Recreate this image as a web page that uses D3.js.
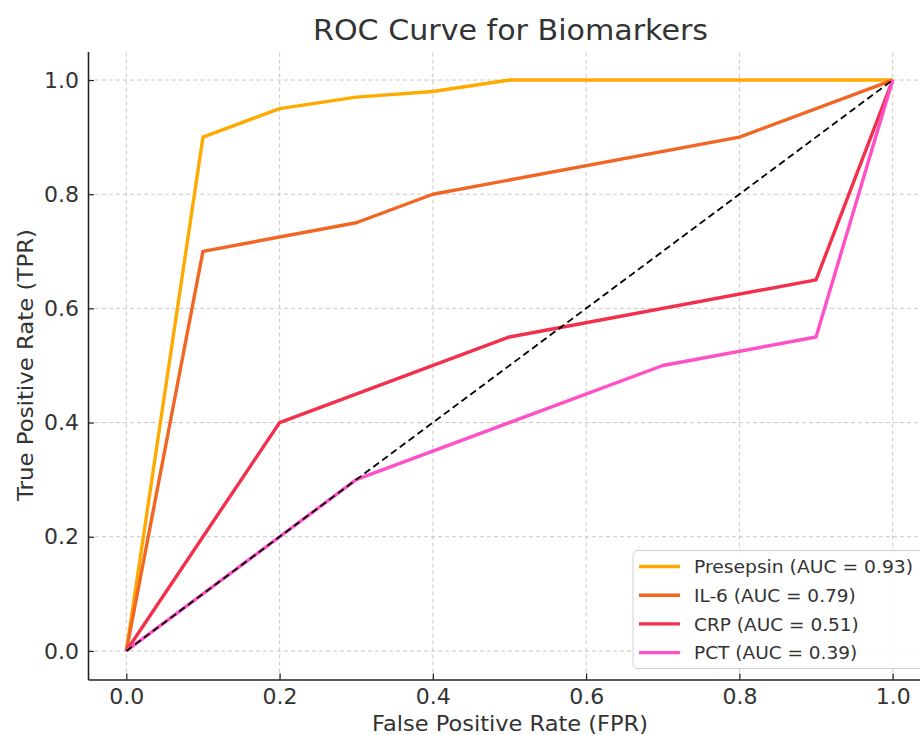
<!DOCTYPE html>
<html>
<head>
<meta charset="utf-8">
<title>ROC Curve for Biomarkers</title>
<script src="https://d3js.org/d3.v7.min.js"></script>
<style>
  body { margin: 0; background: #fff; }
  text { font-family: "DejaVu Sans", sans-serif; fill: #333; }
</style>
</head>
<body>
<div id="chart"></div>
<script>
var width = 920, height = 735;

// data
var seriesNames = ["Presepsin", "IL-6", "CRP", "PCT"];
var aucValues = [0.93, 0.79, 0.51, 0.39];
var seriesColors = ["#ffaa00", "#f26522", "#f2304c", "#ff50c8"];

var presepsinFpr = [0, 0.1, 0.2, 0.3, 0.4, 0.5, 0.6, 0.7, 0.8, 0.9, 1.0];
var presepsinTpr = [0, 0.9, 0.95, 0.97, 0.98, 1.0, 1.0, 1.0, 1.0, 1.0, 1.0];
var il6Fpr = [0, 0.1, 0.3, 0.4, 0.8, 1.0];
var il6Tpr = [0, 0.7, 0.75, 0.8, 0.9, 1.0];
var crpFpr = [0, 0.2, 0.5, 0.9, 1.0];
var crpTpr = [0, 0.4, 0.55, 0.65, 1.0];
var pctFpr = [0, 0.3, 0.7, 0.9, 1.0];
var pctTpr = [0, 0.3, 0.5, 0.55, 1.0];

var tickValues = [0, 0.2, 0.4, 0.6, 0.8, 1.0];

var curves = [
  { fpr: presepsinFpr, tpr: presepsinTpr },
  { fpr: il6Fpr, tpr: il6Tpr },
  { fpr: crpFpr, tpr: crpTpr },
  { fpr: pctFpr, tpr: pctTpr }
].map(function(c, i) {
  return {
    name: seriesNames[i],
    auc: aucValues[i],
    color: seriesColors[i],
    points: c.fpr.map(function(f, j) { return [f, c.tpr[j]]; })
  };
});

var margin = { left: 88, top: 51.5, right: -11, bottom: 55.5 };
var x = d3.scaleLinear().domain([-0.05, 1.05]).range([margin.left, width - margin.right]);
var y = d3.scaleLinear().domain([-0.05, 1.05]).range([height - margin.bottom, margin.top]);

var svg = d3.select("#chart").append("svg")
  .attr("width", width)
  .attr("height", height);

// grid
var grid = svg.append("g").attr("class", "grid");
grid.selectAll("line.v").data(tickValues).enter().append("line")
  .attr("x1", function(d) { return x(d); })
  .attr("x2", function(d) { return x(d); })
  .attr("y1", y(-0.05)).attr("y2", y(1.05))
  .attr("stroke", "#c8c8c8").attr("stroke-width", 1).attr("stroke-dasharray", "4,3");
grid.selectAll("line.h").data(tickValues).enter().append("line")
  .attr("y1", function(d) { return y(d); })
  .attr("y2", function(d) { return y(d); })
  .attr("x1", x(-0.05)).attr("x2", x(1.05))
  .attr("stroke", "#c8c8c8").attr("stroke-width", 1).attr("stroke-dasharray", "4,3");

// axes
var xAxis = d3.axisBottom(x).tickValues(tickValues).tickFormat(d3.format(".1f"))
  .tickSizeInner(-6).tickSizeOuter(0).tickPadding(7);
var yAxis = d3.axisLeft(y).tickValues(tickValues).tickFormat(d3.format(".1f"))
  .tickSizeInner(-6).tickSizeOuter(0).tickPadding(9);

var gx = svg.append("g").attr("transform", "translate(0," + y(-0.05) + ")").call(xAxis);
var gy = svg.append("g").attr("transform", "translate(" + x(-0.05) + ",0)").call(yAxis);
[gx, gy].forEach(function(g) {
  g.select(".domain").attr("stroke", "#222").attr("stroke-width", 1.6);
  g.selectAll(".tick line").attr("stroke", "#222").attr("stroke-width", 1.2);
  g.selectAll(".tick text").attr("font-size", 22).attr("fill", "#222")
    .style("font-family", "'DejaVu Sans', sans-serif");
});
gx.selectAll(".tick text").attr("y", 7).attr("dy", "0.78em");

var line = d3.line().x(function(d) { return x(d[0]); }).y(function(d) { return y(d[1]); });

// curves
svg.append("g").selectAll("path").data(curves).enter().append("path")
  .attr("d", function(d) { return line(d.points); })
  .attr("fill", "none")
  .attr("stroke", function(d) { return d.color; })
  .attr("stroke-width", 3.4)
  .attr("stroke-linejoin", "round");

// diagonal reference
svg.append("path")
  .attr("d", line([[0, 0], [1, 1]]))
  .attr("fill", "none")
  .attr("stroke", "#000")
  .attr("stroke-width", 1.8)
  .attr("stroke-dasharray", "7,4");

// title and labels
svg.append("text")
  .attr("x", 510.5).attr("y", 40)
  .attr("text-anchor", "middle")
  .attr("font-size", 29)
  .attr("textLength", 395).attr("lengthAdjust", "spacingAndGlyphs")
  .text("ROC Curve for Biomarkers");

svg.append("text")
  .attr("x", 510).attr("y", 731)
  .attr("text-anchor", "middle")
  .attr("font-size", 22)
  .attr("textLength", 276).attr("lengthAdjust", "spacingAndGlyphs")
  .text("False Positive Rate (FPR)");

svg.append("text")
  .attr("transform", "translate(33,365) rotate(-90)")
  .attr("text-anchor", "middle")
  .attr("font-size", 22)
  .attr("textLength", 272).attr("lengthAdjust", "spacingAndGlyphs")
  .text("True Positive Rate (TPR)");

// legend
var legend = svg.append("g").attr("transform", "translate(633,550.5)");
legend.append("rect")
  .attr("width", 300).attr("height", 118)
  .attr("rx", 5)
  .attr("fill", "#fff").attr("fill-opacity", 0.85)
  .attr("stroke", "#d0d0d0").attr("stroke-width", 1);

var rows = legend.selectAll("g.row").data(curves).enter().append("g")
  .attr("transform", function(d, i) { return "translate(0," + (16 + i * 28.7) + ")"; });
rows.append("line")
  .attr("x1", 6).attr("x2", 47)
  .attr("stroke", function(d) { return d.color; })
  .attr("stroke-width", 3.4);
rows.append("text")
  .attr("x", 61).attr("dy", "0.36em")
  .attr("font-size", 18.5)
  .attr("textLength", function(d) { return d.name.length > 4 ? 219 : null; })
  .attr("lengthAdjust", "spacingAndGlyphs")
  .text(function(d) { return d.name + " (AUC = " + d.auc.toFixed(2) + ")"; });
</script>
</body>
</html>
